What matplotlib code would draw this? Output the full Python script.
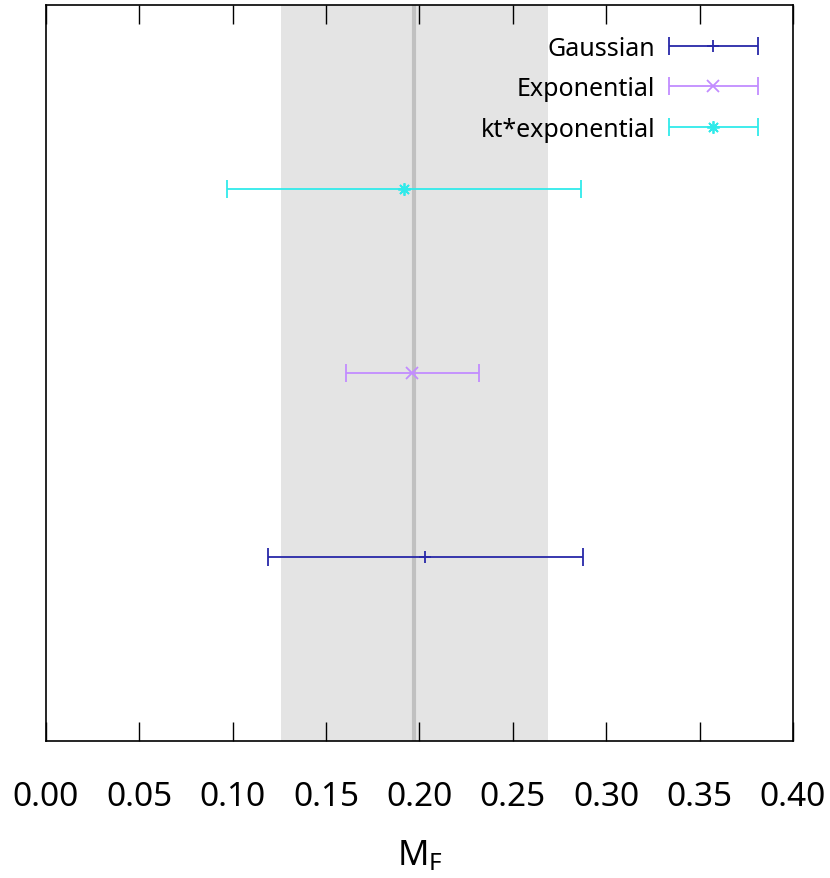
import matplotlib
matplotlib.use("Agg")
import matplotlib.pyplot as plt
from matplotlib.legend_handler import HandlerErrorbar

plt.rcParams['font.family'] = ['Noto Sans', 'DejaVu Sans']
plt.rcParams['mathtext.default'] = 'regular'

# Data
labels = ["Gaussian", "Exponential", "kt*exponential"]
centers = [0.2029, 0.1962, 0.1917]
lower = [0.1187, 0.1608, 0.0971]
upper = [0.2874, 0.2319, 0.2863]
rows = [1, 2, 3]
colors = ["#2828a8", "#c28cff", "#30eaea"]
markers = ["+", "x", (8, 2, 0)]

band_lo, band_hi = 0.1258, 0.2686
ref_value = 0.1971

xticks = [0.00, 0.05, 0.10, 0.15, 0.20, 0.25, 0.30, 0.35, 0.40]

fig = plt.figure(figsize=(8.3, 8.79), dpi=100)
ax = fig.add_axes([0.0554, 0.1559, 0.9000, 0.8373])

ax.axvspan(band_lo, band_hi, color="#e4e4e4", lw=0, zorder=0)
ax.axvline(ref_value, color="#c0c0c0", lw=3, zorder=1)

handles = []
for lab, c, lo, hi, r, col, m in zip(labels, centers, lower, upper, rows, colors, markers):
    xerr = [[c - lo], [hi - c]]
    h = ax.errorbar([c], [r], xerr=xerr, marker=m,
                    linestyle='none', color=col, ecolor=col, elinewidth=1.3,
                    capsize=6.5, capthick=1.3, markersize=9, markeredgewidth=1.3,
                    label=lab, zorder=3)
    handles.append(h)

ax.set_xlim(0.0, 0.4)
ax.set_ylim(0, 4)
ax.set_yticks([])
ax.set_xticks(xticks)
ax.set_xticklabels([f"{v:.2f}" for v in xticks])
ax.tick_params(axis='x', direction='in', length=13.5, width=1, top=True,
               labelsize=24, pad=28)
for s in ax.spines.values():
    s.set_linewidth(1.2)
ax.set_xlabel("M$_{F}$", fontsize=25, labelpad=18)

leg = ax.legend(handles=handles, labels=labels, loc='upper right',
                bbox_to_anchor=(0.983, 0.989), markerfirst=False, frameon=False,
                fontsize=18, handlelength=3.55, labelspacing=0.62, handletextpad=0.55,
                borderpad=0.4,
                handler_map={type(handles[0]): HandlerErrorbar(xerr_size=1.78)})

fig.savefig("out.png", dpi=100)
